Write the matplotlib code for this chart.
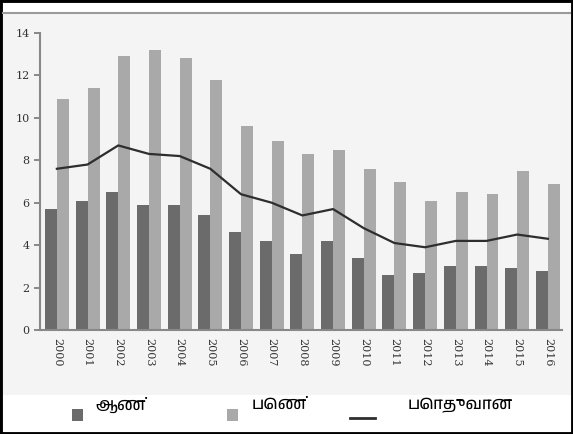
import matplotlib
matplotlib.use("Agg")
import matplotlib.pyplot as plt
import numpy as np
from matplotlib import font_manager
from matplotlib.patches import Rectangle
from matplotlib.lines import Line2D

years = [str(y) for y in range(2000, 2017)]
male = [5.7, 6.1, 6.5, 5.9, 5.9, 5.4, 4.6, 4.2, 3.6, 4.2, 3.4, 2.6, 2.7, 3.0, 3.0, 2.9, 2.8]
female = [10.9, 11.4, 12.9, 13.2, 12.8, 11.8, 9.6, 8.9, 8.3, 8.5, 7.6, 7.0, 6.1, 6.5, 6.4, 7.5, 6.9]
total = [7.6, 7.8, 8.7, 8.3, 8.2, 7.6, 6.4, 6.0, 5.4, 5.7, 4.8, 4.1, 3.9, 4.2, 4.2, 4.5, 4.3]
legend_labels = ["ஆண்", "பெண்", "பொதுவான"]

DARK = "#6b6b6b"
LIGHT = "#a9a9a9"
LINE = "#2e2e2e"

# look for any installed font that can draw Tamil
tamil_font = None
for f in font_manager.fontManager.ttflist:
    if "tamil" in f.name.lower():
        tamil_font = f.name
        break
label_family = [tamil_font, "DejaVu Sans"] if tamil_font else ["DejaVu Sans"]

W, H = 573, 434
fig = plt.figure(figsize=(W / 100, H / 100), dpi=100, facecolor="white")

# faint grey panel behind the chart, white strip for the legend
fig.add_artist(Rectangle((0, 1 - 395 / H), 1, (395 - 13) / H, transform=fig.transFigure,
                         facecolor="#f4f4f4", edgecolor="none", zorder=0))
fig.add_artist(Line2D([0.005, 0.995], [1 - 13 / H] * 2, transform=fig.transFigure,
                      color="#9a9a9a", lw=1.5))

ax = fig.add_axes([40 / W, 1 - 330 / H, (562 - 40) / W, (330 - 33) / H])
ax.set_facecolor("none")

x = np.arange(len(years))
bw = 0.39
ax.bar(x - bw / 2, male, width=bw, color=DARK, zorder=2)
ax.bar(x + bw / 2, female, width=bw, color=LIGHT, zorder=2)
ax.plot(x, total, color=LINE, lw=1.6, zorder=3)

ax.set_xlim(-0.55, 16.46)
ax.set_ylim(0, 14)
ax.set_yticks(range(0, 15, 2))
ax.set_xticks(x)
ax.set_xticklabels(years, rotation=-90, fontsize=8, family="DejaVu Serif", color="#333")
ax.tick_params(axis="x", length=0, pad=6)
ax.tick_params(axis="y", length=4, width=1.2, color="#777", labelsize=8, labelcolor="#333")
for t in ax.get_yticklabels():
    t.set_family("DejaVu Serif")
for s in ("top", "right"):
    ax.spines[s].set_visible(False)
for s in ("left", "bottom"):
    ax.spines[s].set_color("#888")
    ax.spines[s].set_linewidth(1.5)

# legend row along the bottom
ly = 1 - 414 / H
fig.add_artist(Rectangle((72 / W, 1 - 421 / H), 11 / W, 12 / H, transform=fig.transFigure,
                         facecolor=DARK, edgecolor="none"))
fig.add_artist(Rectangle((227 / W, 1 - 421 / H), 11 / W, 12 / H, transform=fig.transFigure,
                         facecolor=LIGHT, edgecolor="none"))
fig.add_artist(Line2D([350 / W, 375 / W], [1 - 418 / H] * 2, transform=fig.transFigure,
                      color=LINE, lw=2))
for xpos, lab in zip([95, 252, 408], legend_labels):
    fig.text(xpos / W, 1 - 405 / H, lab, fontsize=12, family=label_family,
             va="center", ha="left", color="black")

# outer black frame
fig.add_artist(Rectangle((0, 0), 1, 1, transform=fig.transFigure, facecolor="none",
                         edgecolor="black", lw=3.5))

fig.savefig("out.png", dpi=100, facecolor="white")
